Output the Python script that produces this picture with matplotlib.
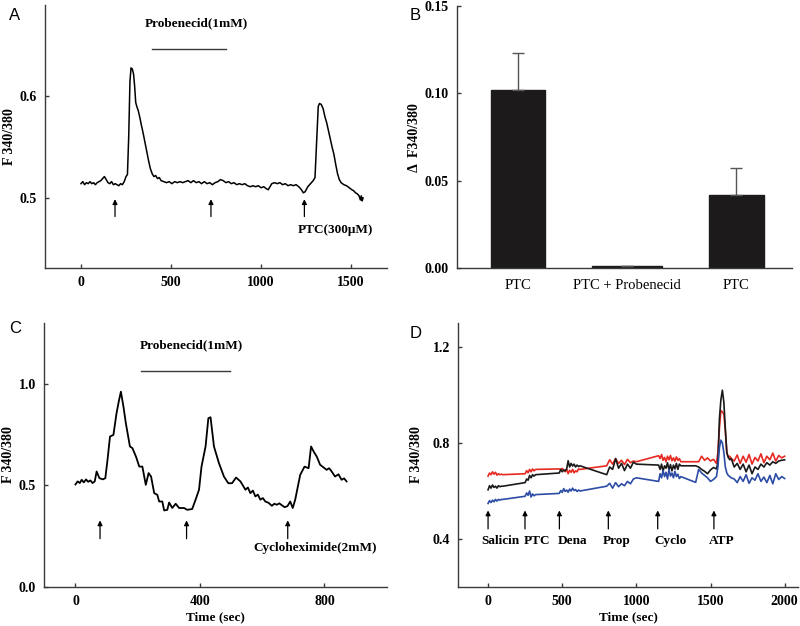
import matplotlib
matplotlib.use("Agg")
import matplotlib.pyplot as plt

plt.rcParams["font.family"] = ["Liberation Serif", "DejaVu Serif"]
plt.rcParams["font.size"] = 9
plt.rcParams["axes.linewidth"] = 1.0
plt.rcParams["axes.edgecolor"] = "#3a3a3a"

# ---- panel A : single cell trace
a_time = [0, 10, 20, 30, 40, 50, 60, 70, 80, 90, 100, 110, 120, 130, 140, 150, 160, 170, 180, 190,
          200, 210, 220, 230, 240, 250, 258, 265, 272, 278, 285, 292, 298, 304, 310, 318, 326, 335,
          345, 355, 365, 375, 385, 395, 405, 415, 425, 435, 445, 460, 475, 490, 505, 520, 535, 550,
          565, 580, 595, 610, 625, 640, 655, 670, 685, 700, 715, 730, 745, 760, 775, 790, 805, 820,
          835, 850, 865, 880, 895, 910, 925, 940, 955, 970, 985, 1000, 1015, 1030, 1040, 1050, 1060,
          1075, 1090, 1105, 1120, 1135, 1150, 1165, 1180, 1195, 1210, 1225, 1235, 1245, 1260, 1275,
          1290, 1300, 1310, 1318, 1325, 1335, 1345, 1355, 1365, 1375, 1385, 1395, 1405, 1415, 1425,
          1435, 1445, 1460, 1475, 1490, 1505, 1515, 1525, 1535, 1545, 1552, 1557, 1562, 1567]
a_ratio = [0.514, 0.516, 0.513, 0.515, 0.514, 0.516, 0.514, 0.515, 0.513, 0.515, 0.516, 0.517, 0.519,
           0.521, 0.518, 0.515, 0.514, 0.516, 0.513, 0.514, 0.513, 0.512, 0.514, 0.513, 0.516, 0.521,
           0.523, 0.560, 0.615, 0.628, 0.627, 0.622, 0.610, 0.594, 0.590, 0.586, 0.580, 0.572, 0.564,
           0.555, 0.546, 0.537, 0.529, 0.524, 0.521, 0.522, 0.519, 0.520, 0.517, 0.516, 0.515, 0.516,
           0.514, 0.516, 0.515, 0.516, 0.515, 0.516, 0.517, 0.515, 0.517, 0.515, 0.516, 0.514, 0.516,
           0.514, 0.515, 0.513, 0.515, 0.516, 0.518, 0.517, 0.515, 0.516, 0.514, 0.515, 0.513, 0.514,
           0.513, 0.514, 0.512, 0.511, 0.512, 0.511, 0.512, 0.510, 0.511, 0.509, 0.508, 0.511, 0.514,
           0.515, 0.514, 0.515, 0.513, 0.514, 0.512, 0.513, 0.512, 0.513, 0.511, 0.508, 0.505, 0.506,
           0.511, 0.514, 0.517, 0.520, 0.560, 0.590, 0.593, 0.592, 0.588, 0.580, 0.574, 0.566, 0.558,
           0.550, 0.543, 0.533, 0.524, 0.518, 0.515, 0.513, 0.512, 0.510, 0.508, 0.507, 0.505, 0.504,
           0.502, 0.498, 0.502, 0.497, 0.500]
a_arrows = [189, 722, 1241]

# ---- panel B : mean responses
b_groups = ["PTC", "PTC + Probenecid", "PTC"]
b_mean = [0.102, 0.001, 0.042]
b_sem = [0.021, 0.0, 0.015]

# ---- panel C : trace with cycloheximide
c_time = [0, 7, 14, 20, 27, 34, 41, 48, 55, 62, 68, 77, 88, 96, 103, 111, 122, 132, 140, 146, 154,
          162, 175, 183, 195, 205, 215, 226, 235, 243, 253, 263, 269, 279, 285, 295, 301, 311, 322,
          333, 349, 359, 375, 386, 397, 405, 418, 427, 434, 445, 461, 477, 491, 503, 516, 530, 538,
          546, 554, 562, 570, 578, 586, 594, 602, 610, 620, 631, 639, 647, 655, 661, 672, 681, 690,
          698, 706, 722, 736, 749, 757, 766, 775, 786, 796, 807, 815, 823, 834, 845, 855, 863, 871]
c_ratio = [0.505, 0.520, 0.512, 0.528, 0.515, 0.530, 0.518, 0.525, 0.512, 0.520, 0.569, 0.536, 0.530,
           0.536, 0.626, 0.741, 0.749, 0.856, 0.920, 0.962, 0.890, 0.806, 0.692, 0.684, 0.640, 0.593,
           0.593, 0.503, 0.561, 0.544, 0.462, 0.454, 0.421, 0.421, 0.377, 0.380, 0.416, 0.389, 0.410,
           0.389, 0.389, 0.380, 0.384, 0.430, 0.479, 0.593, 0.692, 0.831, 0.836, 0.692, 0.610, 0.544,
           0.511, 0.511, 0.539, 0.520, 0.500, 0.479, 0.490, 0.462, 0.475, 0.446, 0.455, 0.430, 0.438,
           0.421, 0.415, 0.400, 0.410, 0.405, 0.412, 0.405, 0.393, 0.398, 0.421, 0.389, 0.430, 0.552,
           0.593, 0.585, 0.692, 0.665, 0.643, 0.602, 0.590, 0.577, 0.585, 0.569, 0.544, 0.555, 0.528,
           0.535, 0.520]
c_arrows = [79, 357, 682]

# ---- panel D : three cells
d_time = [0, 10, 20, 30, 40, 50, 60, 70, 80, 90, 100,
          250, 260, 270, 280, 290, 300, 310, 320,
          480, 490, 500, 510, 520, 530, 540, 550, 560, 570, 580, 590, 600, 610, 620,
          800, 820, 840, 860, 880, 900, 920, 940, 960, 980, 1000,
          1150, 1160, 1170, 1180, 1190, 1200, 1210, 1220, 1230, 1240, 1250, 1260, 1270, 1280, 1290, 1300,
          1400, 1420, 1440, 1460, 1480, 1500, 1520, 1540,
          1550, 1560, 1570, 1580, 1590, 1600, 1610, 1620, 1630, 1640,
          1660, 1680, 1700, 1720, 1740, 1760, 1780, 1800, 1820, 1840, 1860, 1880, 1900, 1920,
          1940, 1960, 1980, 2000]
d_red = [0.662, 0.675, 0.668, 0.680, 0.670, 0.678, 0.666, 0.672, 0.668, 0.670, 0.668,
         0.672, 0.685, 0.676, 0.690, 0.680, 0.692, 0.684, 0.690,
         0.692, 0.690, 0.694, 0.688, 0.680, 0.692, 0.672, 0.686, 0.678, 0.690, 0.676, 0.684, 0.680, 0.692, 0.690,
         0.705, 0.730, 0.712, 0.735, 0.715, 0.728, 0.710, 0.732, 0.718, 0.725, 0.722,
         0.747, 0.735, 0.752, 0.728, 0.740, 0.722, 0.745, 0.730, 0.748, 0.726, 0.738, 0.724, 0.742, 0.728,
         0.735, 0.722,
         0.722, 0.722, 0.745, 0.728, 0.738, 0.725, 0.732, 0.715,
         0.760, 0.860, 0.935, 0.930, 0.920, 0.850, 0.760, 0.740, 0.745, 0.735,
         0.725, 0.750, 0.715, 0.745, 0.720, 0.752, 0.712, 0.740, 0.725, 0.755, 0.718, 0.745, 0.730, 0.758,
         0.725, 0.748, 0.738, 0.745]
d_black = [0.605, 0.622, 0.612, 0.625, 0.615, 0.620, 0.612, 0.622, 0.618, 0.620, 0.620,
           0.635, 0.650, 0.645, 0.665, 0.655, 0.668, 0.662, 0.668,
           0.675, 0.690, 0.680, 0.688, 0.684, 0.692, 0.726, 0.700, 0.715, 0.704, 0.712, 0.700, 0.708, 0.702, 0.705,
           0.668, 0.700, 0.690, 0.735, 0.695, 0.715, 0.685, 0.712, 0.695, 0.720, 0.712,
           0.708, 0.690, 0.712, 0.682, 0.705, 0.695, 0.718, 0.688, 0.710, 0.684, 0.708, 0.692, 0.715, 0.690,
           0.712, 0.705,
           0.705, 0.700, 0.690, 0.682, 0.672, 0.688, 0.698, 0.692,
           0.720, 0.900, 0.980, 1.020, 0.970, 0.860, 0.760, 0.740, 0.730, 0.735,
           0.700, 0.715, 0.690, 0.712, 0.680, 0.708, 0.672, 0.700, 0.690, 0.712, 0.700, 0.718, 0.708, 0.722,
           0.715, 0.725, 0.728, 0.730]
d_blue = [0.548, 0.560, 0.552, 0.562, 0.555, 0.565, 0.558, 0.565, 0.562, 0.565, 0.565,
          0.578, 0.592, 0.582, 0.600, 0.575, 0.588, 0.580, 0.585,
          0.590, 0.602, 0.594, 0.610, 0.598, 0.604, 0.595, 0.608, 0.600, 0.612, 0.602, 0.606, 0.598, 0.604, 0.600,
          0.620, 0.632, 0.612, 0.635, 0.618, 0.630, 0.622, 0.640, 0.630, 0.650, 0.655,
          0.640, 0.672, 0.655, 0.685, 0.660, 0.678, 0.650, 0.690, 0.662, 0.675, 0.655, 0.682, 0.660, 0.670,
          0.652, 0.660,
          0.636, 0.690, 0.675, 0.665, 0.655, 0.640, 0.648, 0.660,
          0.700, 0.780, 0.812, 0.800, 0.760, 0.700, 0.675, 0.665, 0.660, 0.655,
          0.650, 0.635, 0.660, 0.640, 0.668, 0.632, 0.655, 0.645, 0.672, 0.640, 0.658, 0.635, 0.665, 0.630,
          0.672, 0.648, 0.660, 0.652]
d_arrows = [0, 249, 481, 811, 1144, 1523]
d_drugs = ["Salicin", "PTC", "Dena", "Prop", "Cyclo", "ATP"]
d_label_x = [85, 331, 567, 869, 1227, 1574]

fig = plt.figure(figsize=(8, 6.26), dpi=100)
axA = fig.add_axes([0.05625, 0.572, 0.4275, 0.42])
axB = fig.add_axes([0.571, 0.572, 0.419, 0.418])
axC = fig.add_axes([0.0554, 0.0623, 0.428, 0.4217])
axD = fig.add_axes([0.573, 0.0623, 0.4245, 0.4217])

for ax in (axA, axB, axC, axD):
    ax.spines["top"].set_visible(False)
    ax.spines["right"].set_visible(False)
    ax.tick_params(direction="in", length=3, width=1, color="#3a3a3a", pad=6, labelsize=10)


def arrows(ax, xs, y0, y1):
    for x in xs:
        ax.annotate("", xy=(x, y1), xytext=(x, y0),
                    arrowprops=dict(arrowstyle="-|>", color="black", lw=0.9,
                                    mutation_scale=7, shrinkA=0, shrinkB=0))


def bold_ticks(ax, xaxis=True):
    labs = ax.get_yticklabels()
    if xaxis:
        labs = labs + ax.get_xticklabels()
    for lab in labs:
        lab.set_fontweight("bold")


# A
axA.plot(a_time, a_ratio, color="black", lw=1.1)
axA.set_xlim(-200, 1700)
axA.set_ylim(0.431, 0.69)
axA.set_xticks([0, 500, 1000, 1500])
axA.set_yticks([0.5, 0.6])
axA.set_ylabel("F 340/380", fontweight="bold", fontsize=10)
axA.yaxis.set_label_coords(-0.085, 0.5)
arrows(axA, a_arrows, 0.4816, 0.4987)
axA.plot([396, 804], [0.647, 0.647], color="#3a3a3a", lw=1.0)
axA.text(643, 0.672, "Probenecid(1mM)", ha="center", va="center", fontweight="bold", fontsize=9.5)
axA.text(1411, 0.468, "PTC(300\u03bcM)", ha="center", va="center", fontweight="bold", fontsize=9.5)
bold_ticks(axA)

# B
xpos = list(range(len(b_groups)))
axB.bar(xpos, b_mean, width=[0.5, 0.64, 0.5], color="#1c1a1a", edgecolor="#1c1a1a")
axB.errorbar(xpos, b_mean, yerr=[[0] * len(b_sem), b_sem], fmt="none", ecolor="#555555",
             elinewidth=1.0, capsize=4, capthick=1.0)
axB.set_xlim(-0.56, 2.51)
axB.set_ylim(0, 0.15)
axB.set_yticks([0, 0.05, 0.10, 0.15])
axB.set_yticklabels(["0.00", "0.05", "0.10", "0.15"])
axB.set_xticks(xpos)
axB.set_xticklabels(b_groups, fontsize=10.5, fontweight="normal")
axB.tick_params(axis="x", length=0, pad=8)
axB.set_ylabel("\u0394  F340/380", fontweight="bold", fontsize=10)
axB.yaxis.set_label_coords(-0.108, 0.5)
bold_ticks(axB, xaxis=False)

# C
axC.plot(c_time, c_ratio, color="black", lw=1.3)
axC.set_xlim(-100, 1000)
axC.set_ylim(0, 1.3)
axC.set_xticks([0, 400, 800])
axC.set_yticks([0, 0.5, 1.0])
axC.set_yticklabels(["0.0", "0.5", "1.0"])
axC.set_ylabel("F 340/380", fontweight="bold", fontsize=10)
axC.yaxis.set_label_coords(-0.085, 0.5)
axC.set_xlabel("Time (sec)", fontweight="bold", fontsize=9.5, labelpad=2)
arrows(axC, c_arrows, 0.238, 0.328)
axC.plot([210, 495], [1.064, 1.064], color="#3a3a3a", lw=1.0)
axC.text(373, 1.189, "Probenecid(1mM)", ha="center", va="center", fontweight="bold", fontsize=9.5)
axC.text(770, 0.192, "Cycloheximide(2mM)", ha="center", va="center", fontweight="bold", fontsize=9.5)
bold_ticks(axC)

# D
axD.plot(d_time, d_red, color="#e62a22", lw=1.2)
axD.plot(d_time, d_black, color="#1a1a1a", lw=1.2)
axD.plot(d_time, d_blue, color="#2d4ca6", lw=1.2)
axD.set_xlim(-200, 2090)
axD.set_ylim(0.2, 1.3)
axD.set_xticks([0, 500, 1000, 1500, 2000])
axD.set_yticks([0.4, 0.8, 1.2])
axD.set_ylabel("F 340/380", fontweight="bold", fontsize=10)
axD.yaxis.set_label_coords(-0.105, 0.5)
axD.set_xlabel("Time (sec)", fontweight="bold", fontsize=9.5, labelpad=2)
arrows(axD, d_arrows, 0.442, 0.519)
for x, name in zip(d_label_x, d_drugs):
    axD.text(x, 0.391, name, ha="center", va="center", fontweight="bold", fontsize=9.5)
bold_ticks(axD)

# panel letters
for letter, (x, y) in zip("ABCD", [(0.011, 0.975), (0.512, 0.975), (0.011, 0.475), (0.512, 0.468)]):
    fig.text(x, y, letter, family="Liberation Sans", fontsize=12, ha="left", va="center")

fig.savefig("out.png", dpi=100)
